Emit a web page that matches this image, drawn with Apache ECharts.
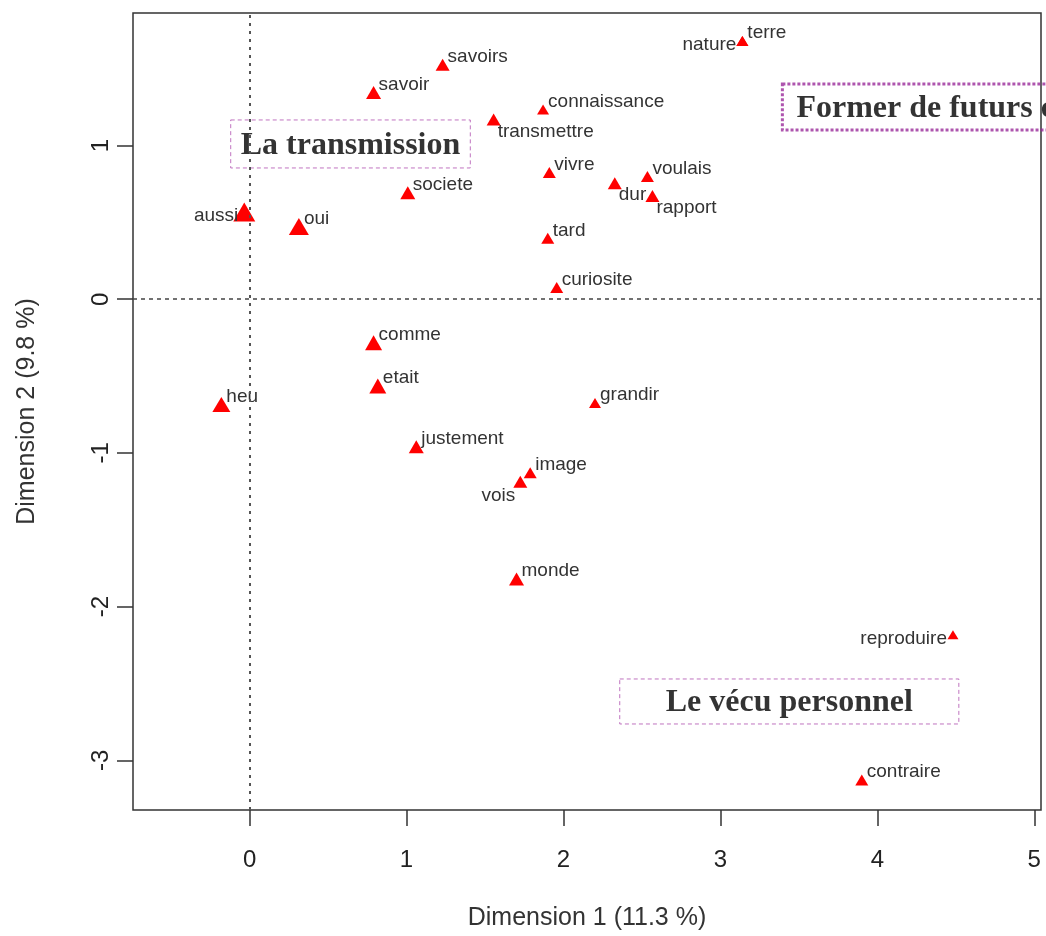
<!DOCTYPE html>
<html>
<head>
<meta charset="utf-8">
<script src="https://cdn.jsdelivr.net/npm/echarts@6/dist/echarts.min.js"></script>
<style>
html,body{margin:0;padding:0;background:#fff;}
#chart{width:1046px;height:936px;}
</style>
</head>
<body>
<div id="chart"></div>
<script>
// ---- data ----
const words = ['terre','nature','savoirs','savoir','connaissance','transmettre','vivre','voulais','dur','rapport','societe','aussi','oui','tard','curiosite','comme','etait','heu','grandir','justement','image','vois','monde','reproduire','contraire'];
const dim1 = [3.14, 3.14, 1.23, 0.79, 1.87, 1.555, 1.91, 2.535, 2.327, 2.567, 1.008, -0.034, 0.314, 1.90, 1.957, 0.79, 0.817, -0.18, 2.201, 1.062, 1.788, 1.725, 1.701, 4.482, 3.901];
const dim2 = [1.68, 1.68, 1.526, 1.345, 1.234, 1.169, 0.825, 0.799, 0.755, 0.672, 0.693, 0.568, 0.473, 0.396, 0.076, -0.284, -0.565, -0.685, -0.675, -0.96, -1.129, -1.187, -1.82, -2.183, -3.128];
const xTicks = [0, 1, 2, 3, 4, 5];
const yTicks = [-3, -2, -1, 0, 1];
const annotationTexts = ['La transmission', 'Former de futurs citoyens', 'Le vécu personnel'];
const annotationX = [0.643, 3.395, 3.439];
const annotationY = [1.010, 1.250, -2.617];
const xTitle = 'Dimension 1 (11.3 %)';
const yTitle = 'Dimension 2 (9.8 %)';

// ---- styling config ----
const markerWidth = {aussi: 22, oui: 20, heu: 18, comme: 17, etait: 17, savoir: 15, societe: 15, justement: 15, monde: 15, vois: 14, savoirs: 14, transmettre: 14, dur: 14, rapport: 14, reproduire: 11, terre: 12, nature: 12, connaissance: 12, grandir: 12};
const placement = {nature: 'left', aussi: 'left', reproduire: 'left', vois: 'lowerLeft', dur: 'lowerRight', rapport: 'lowerRight', transmettre: 'lowerRight'};
const placeStyle = {
  upperRight: {align: 'left', offset: [5, -8]},
  lowerRight: {align: 'left', offset: [4, 12]},
  left: {align: 'right', offset: [-6, 4]},
  lowerLeft: {align: 'right', offset: [-5, 14]}
};
const annStyle = [
  {borderColor: '#b050b0', borderWidth: 1, borderType: [4, 3], padding: [10, 10, 6, 10], align: 'center'},
  {borderColor: '#9a2a9a', borderWidth: 3, borderType: [3, 2], padding: [9, 14, 5, 14], align: 'left'},
  {borderColor: '#b050b0', borderWidth: 1, borderType: [4, 3], padding: [8, 46, 5, 46], align: 'center'}
];

const pointData = words.map((w, i) => {
  const mw = markerWidth[w] || 13;
  const ps = placeStyle[placement[w] || 'upperRight'];
  return {
    name: w,
    value: [dim1[i], dim2[i]],
    symbolSize: [mw, Math.round(mw * 0.86)],
    label: {show: true, position: 'inside', align: ps.align, verticalAlign: 'middle', offset: ps.offset}
  };
});

const annData = annotationTexts.map((t, i) => ({
  name: t,
  value: [annotationX[i], annotationY[i]],
  label: Object.assign({
    show: true, position: 'inside', verticalAlign: 'middle',
    formatter: '{a|' + t + '}',
    color: '#000', textBorderWidth: 0,
    rich: {a: {fontFamily: '"Liberation Serif", "DejaVu Serif", serif', fontWeight: 'bold', fontSize: 32, color: '#000', lineHeight: 32, textBorderWidth: 0}}
  }, annStyle[i])
}));

const chart = echarts.init(document.getElementById('chart'), null, {renderer: 'canvas'});
chart.setOption({
  animation: false,
  backgroundColor: '#fff',
  grid: {left: 133, top: 13, width: 908, height: 799, show: true, borderColor: '#333', borderWidth: 1.5, backgroundColor: 'transparent'},
  xAxis: {
    type: 'value', min: -0.743, max: 5.043,
    name: xTitle, nameLocation: 'middle', nameGap: 96,
    nameTextStyle: {fontFamily: '"Liberation Sans", Arial, sans-serif', fontSize: 25, color: '#333'},
    axisLine: {show: false, onZero: false},
    splitLine: {show: false},
    axisTick: {show: true, customValues: xTicks, length: 16, lineStyle: {color: '#333', width: 1.5}},
    axisLabel: {customValues: xTicks, margin: 38, fontFamily: '"Liberation Sans", Arial, sans-serif', fontSize: 24, color: '#222'}
  },
  yAxis: {
    type: 'value', min: -3.323, max: 1.862,
    name: yTitle, nameLocation: 'middle', nameGap: 93,
    nameTextStyle: {fontFamily: '"Liberation Sans", Arial, sans-serif', fontSize: 25, color: '#333'},
    axisLine: {show: false, onZero: false},
    splitLine: {show: false},
    axisTick: {show: true, customValues: yTicks, length: 16, lineStyle: {color: '#333', width: 1.5}},
    axisLabel: {customValues: yTicks, rotate: 90, margin: 20, fontFamily: '"Liberation Sans", Arial, sans-serif', fontSize: 24, color: '#222'}
  },
  series: [
    {
      type: 'scatter',
      symbol: 'triangle',
      itemStyle: {color: '#ff0000', opacity: 1},
      label: {
        formatter: '{b}',
        fontFamily: '"Liberation Sans", Arial, sans-serif', fontSize: 19, color: '#333'
      },
      data: pointData,
      z: 3,
      markLine: {
        silent: true, symbol: 'none', label: {show: false},
        data: [
          {xAxis: 0, lineStyle: {type: [3, 5], color: '#555', width: 2}},
          {yAxis: 0, lineStyle: {type: [4, 4], color: '#444', width: 1.5}}
        ]
      }
    },
    {
      type: 'scatter',
      symbol: 'circle',
      symbolSize: 1,
      silent: true,
      clip: false,
      itemStyle: {color: 'rgba(255,255,255,0)'},
      data: annData,
      z: 4
    }
  ]
});
</script>
</body>
</html>
